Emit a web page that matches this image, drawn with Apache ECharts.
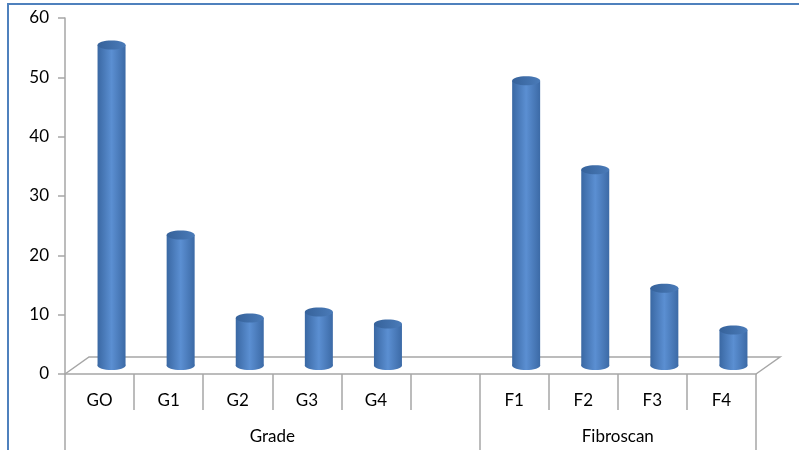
<!DOCTYPE html>
<html lang="en">
<head>
  <meta charset="UTF-8">
  <title>Grade / Fibroscan</title>
  <script src="https://cdn.jsdelivr.net/npm/echarts@6/dist/echarts.min.js"></script>
  <style>
    html, body { margin: 0; padding: 0; background: #fff; }
    #chart { width: 799px; height: 450px; }
  </style>
</head>
<body>
  <div id="chart"></div>
  <script>
    // categories (empty slot separates the two groups)
    const categories = ['GO', 'G1', 'G2', 'G3', 'G4', '', 'F1', 'F2', 'F3', 'F4'];
    const values = [54, 22, 8, 9, 7, null, 48, 33, 13, 6];
    const groupNames = ['Grade', 'Fibroscan'];
    const groupSpans = [6, 4];
    const yTicks = [0, 10, 20, 30, 40, 50, 60];

    const depthX = 24, depthY = 17;
    const axisGray = '#a6a6a6';
    const font = 'Lato, "Open Sans", sans-serif';

    // group boundaries and centres on a 0..N value axis
    const groupEdges = [0];
    groupSpans.forEach(s => groupEdges.push(groupEdges[groupEdges.length - 1] + s));
    const groupCenters = groupSpans.map((s, i) => groupEdges[i] + s / 2);
    const catEdges = categories.map((c, i) => i).concat([categories.length]);

    const chart = echarts.init(document.getElementById('chart'));

    function renderCylinder(params, api) {
      const v = api.value(1);
      if (v == null || isNaN(v)) return;
      const base = api.coord([api.value(0), 0]);
      const top = api.coord([api.value(0), v]);
      const cx = base[0] + depthX / 2;
      const by = base[1] - depthY / 2;
      const ty = top[1] - depthY / 2;
      const w = 28, ry = 4.5;
      const bodyFill = new echarts.graphic.LinearGradient(0, 0, 1, 0, [
        { offset: 0, color: '#3a68a3' },
        { offset: 0.5, color: '#5b8fd2' },
        { offset: 1, color: '#3c6aa6' }
      ]);
      const topFill = new echarts.graphic.LinearGradient(0, 0, 1, 0, [
        { offset: 0, color: '#36629a' },
        { offset: 1, color: '#4a7bb9' }
      ]);
      return {
        type: 'group',
        children: [
          { type: 'rect', shape: { x: cx - w / 2, y: ty, width: w, height: by - ty }, style: { fill: bodyFill } },
          { type: 'ellipse', shape: { cx: cx, cy: by, rx: w / 2, ry: ry }, style: { fill: bodyFill } },
          { type: 'ellipse', shape: { cx: cx, cy: ty, rx: w / 2, ry: ry }, style: { fill: topFill } }
        ]
      };
    }

    function renderFloor(params, api) {
      const cs = params.coordSys;
      const x0 = cs.x, x1 = cs.x + cs.width, y0 = cs.y + cs.height;
      return {
        type: 'polyline',
        silent: true,
        shape: { points: [[x0, y0], [x0 + depthX, y0 - depthY], [x1 + depthX, y0 - depthY], [x1, y0]] },
        style: { stroke: axisGray, lineWidth: 1.5, fill: null }
      };
    }

    const option = {
      animation: false,
      backgroundColor: '#fff',
      graphic: [{
        type: 'rect',
        shape: { x: 8, y: 4, width: 820, height: 480 },
        style: { fill: null, stroke: '#4f81bd', lineWidth: 2 },
        silent: true
      }],
      grid: { left: 65, right: 43, top: 18, bottom: 76 },
      xAxis: [{
        type: 'category',
        data: categories,
        axisLine: { lineStyle: { color: axisGray, width: 1.5 } },
        axisTick: { show: false },
        axisLabel: { interval: 0, margin: 18, fontSize: 17, color: '#000', fontFamily: font }
      }, {
        // category dividers
        type: 'value',
        min: 0,
        max: categories.length,
        position: 'bottom',
        axisLine: { show: false },
        splitLine: { show: false },
        axisLabel: { show: false },
        axisTick: { show: true, customValues: catEdges, length: 36, lineStyle: { color: axisGray, width: 1.5 } }
      }, {
        // group row
        type: 'value',
        min: 0,
        max: categories.length,
        position: 'bottom',
        axisLine: { show: false },
        splitLine: { show: false },
        axisTick: { show: true, customValues: groupEdges, length: 80, lineStyle: { color: axisGray, width: 1.5 } },
        axisLabel: {
          customValues: groupCenters,
          margin: 54,
          fontSize: 17,
          color: '#000',
          fontFamily: font,
          formatter: v => groupNames[groupCenters.indexOf(v)] || ''
        }
      }],
      yAxis: {
        type: 'value',
        min: yTicks[0],
        max: yTicks[yTicks.length - 1],
        interval: 10,
        splitLine: { show: false },
        axisLine: { show: true, lineStyle: { color: axisGray, width: 1.5 } },
        axisTick: { show: true, length: 7, lineStyle: { color: axisGray, width: 1.5 } },
        axisLabel: { margin: 16, fontSize: 17, color: '#000', fontFamily: font }
      },
      series: [{
        type: 'custom',
        renderItem: renderFloor,
        data: [[0, 0]],
        silent: true,
        z: 1
      }, {
        type: 'custom',
        renderItem: renderCylinder,
        data: categories.map((c, i) => [i, values[i]]),
        z: 2
      }]
    };

    chart.setOption(option);
  </script>
</body>
</html>
